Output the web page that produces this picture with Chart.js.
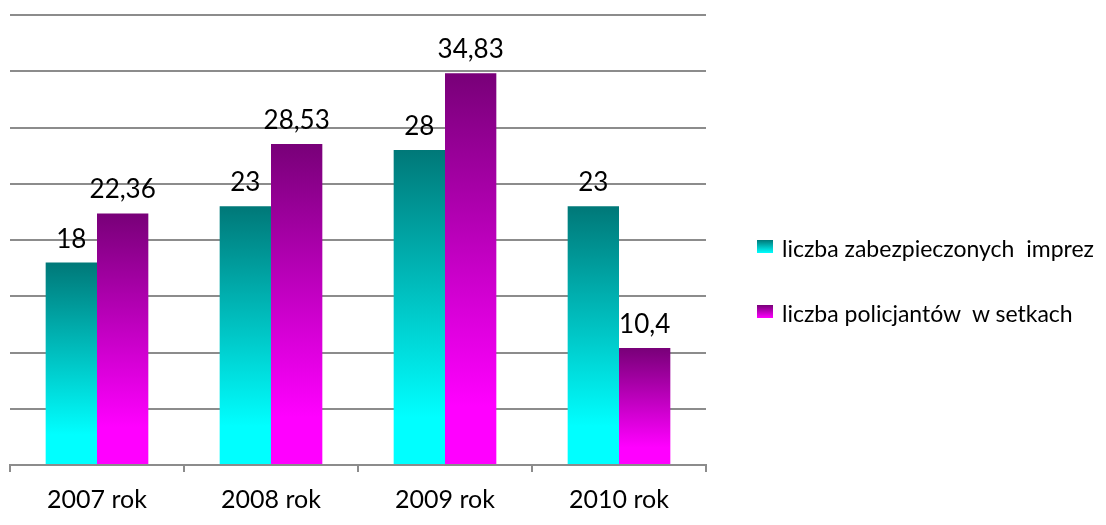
<!DOCTYPE html>
<html>
<head>
<meta charset="utf-8">
<script src="https://cdn.jsdelivr.net/npm/chart.js@4/dist/chart.umd.min.js"></script>
<style>
  html, body { margin:0; padding:0; background:#fff; }
  .wrap { position:relative; width:1106px; height:525px; }
  #chart { position:absolute; left:0; top:0; }
  .legend { position:absolute; left:757px; top:0; font-family:Lato, 'Open Sans', sans-serif; font-size:23px; color:#000; }
  .legend-row { position:absolute; left:0; height:30px; line-height:30px; white-space:pre; }
  .swatch { position:absolute; left:0; top:7px; width:16px; height:13px; }
  .legend-text { position:absolute; left:25px; top:0; }
</style>
</head>
<body>
<div class="wrap">
  <canvas id="chart" width="1106" height="525"></canvas>
  <div class="legend" id="legend"></div>
</div>
<script>
/* ---------- data ---------- */
const years = ['2007 rok', '2008 rok', '2009 rok', '2010 rok'];
const eventsSecured = [18, 23, 28, 23];
const policeHundreds = [22.36, 28.53, 34.83, 10.4];
const seriesNames = ['liczba zabezpieczonych  imprez', 'liczba policjantów  w setkach'];

const palettes = [
  { top:'#007878', bottom:'#00ffff' },
  { top:'#780078', bottom:'#ff00ff' }
];
const FONT = 'Lato, "Open Sans", sans-serif';

/* vertical gradient per bar, dark on top, bright at the bottom */
function barGradient(ctx, pal){
  const chart = ctx.chart;
  const area = chart.chartArea;
  if(!area || ctx.type !== 'data') return pal.bottom;
  const y = chart.scales.y;
  const yTop = y.getPixelForValue(ctx.raw);
  const yBase = y.getPixelForValue(0);
  const g = chart.ctx.createLinearGradient(0, yTop, 0, yBase);
  g.addColorStop(0, pal.top);
  g.addColorStop(0.85, pal.bottom);
  g.addColorStop(1, pal.bottom);
  return g;
}

/* ---------- value labels ---------- */
const valueLabels = {
  id:'valueLabels',
  afterDatasetsDraw(chart){
    const c = chart.ctx;
    c.save();
    c.font = '26px ' + FONT;
    c.fillStyle = '#000';
    c.textAlign = 'center';
    c.textBaseline = 'alphabetic';
    chart.data.datasets.forEach((ds, i) => {
      chart.getDatasetMeta(i).data.forEach((bar, j) => {
        c.fillText(String(ds.data[j]).replace('.', ','), bar.x, bar.y - 15);
      });
    });
    c.restore();
  }
};

new Chart(document.getElementById('chart'), {
  type:'bar',
  data:{
    labels: years,
    datasets:[
      { label: seriesNames[0], data: eventsSecured, backgroundColor: c => barGradient(c, palettes[0]) },
      { label: seriesNames[1], data: policeHundreds, backgroundColor: c => barGradient(c, palettes[1]) }
    ]
  },
  options:{
    responsive:false,
    animation:false,
    layout:{ padding:{ left:10, right:400, top:15, bottom:0 } },
    datasets:{ bar:{ categoryPercentage:0.59, barPercentage:1.0 } },
    plugins:{ legend:{ display:false }, tooltip:{ enabled:false } },
    scales:{
      x:{
        afterFit: s => { s.height = 60; },
        grid:{ drawOnChartArea:false, drawTicks:true, tickLength:7, color:'#8c8c8c', lineWidth:2 },
        border:{ color:'#8c8c8c', width:2 },
        ticks:{ color:'#000', padding:13, font:{ family:FONT, size:25 } }
      },
      y:{
        min:0, max:40,
        ticks:{ stepSize:5, display:false },
        grid:{ color:'#8c8c8c', lineWidth:2, drawTicks:false },
        border:{ display:false }
      }
    }
  },
  plugins:[valueLabels]
});

/* ---------- legend (html) ---------- */
const legendTops = [233, 298];
document.getElementById('legend').innerHTML = seriesNames.map((name, i) => `
  <div class="legend-row" style="top:${legendTops[i]}px">
    <span class="swatch" style="background:linear-gradient(${palettes[i].top}, ${palettes[i].bottom})"></span>
    <span class="legend-text">${name}</span>
  </div>`).join('');
</script>
</body>
</html>
